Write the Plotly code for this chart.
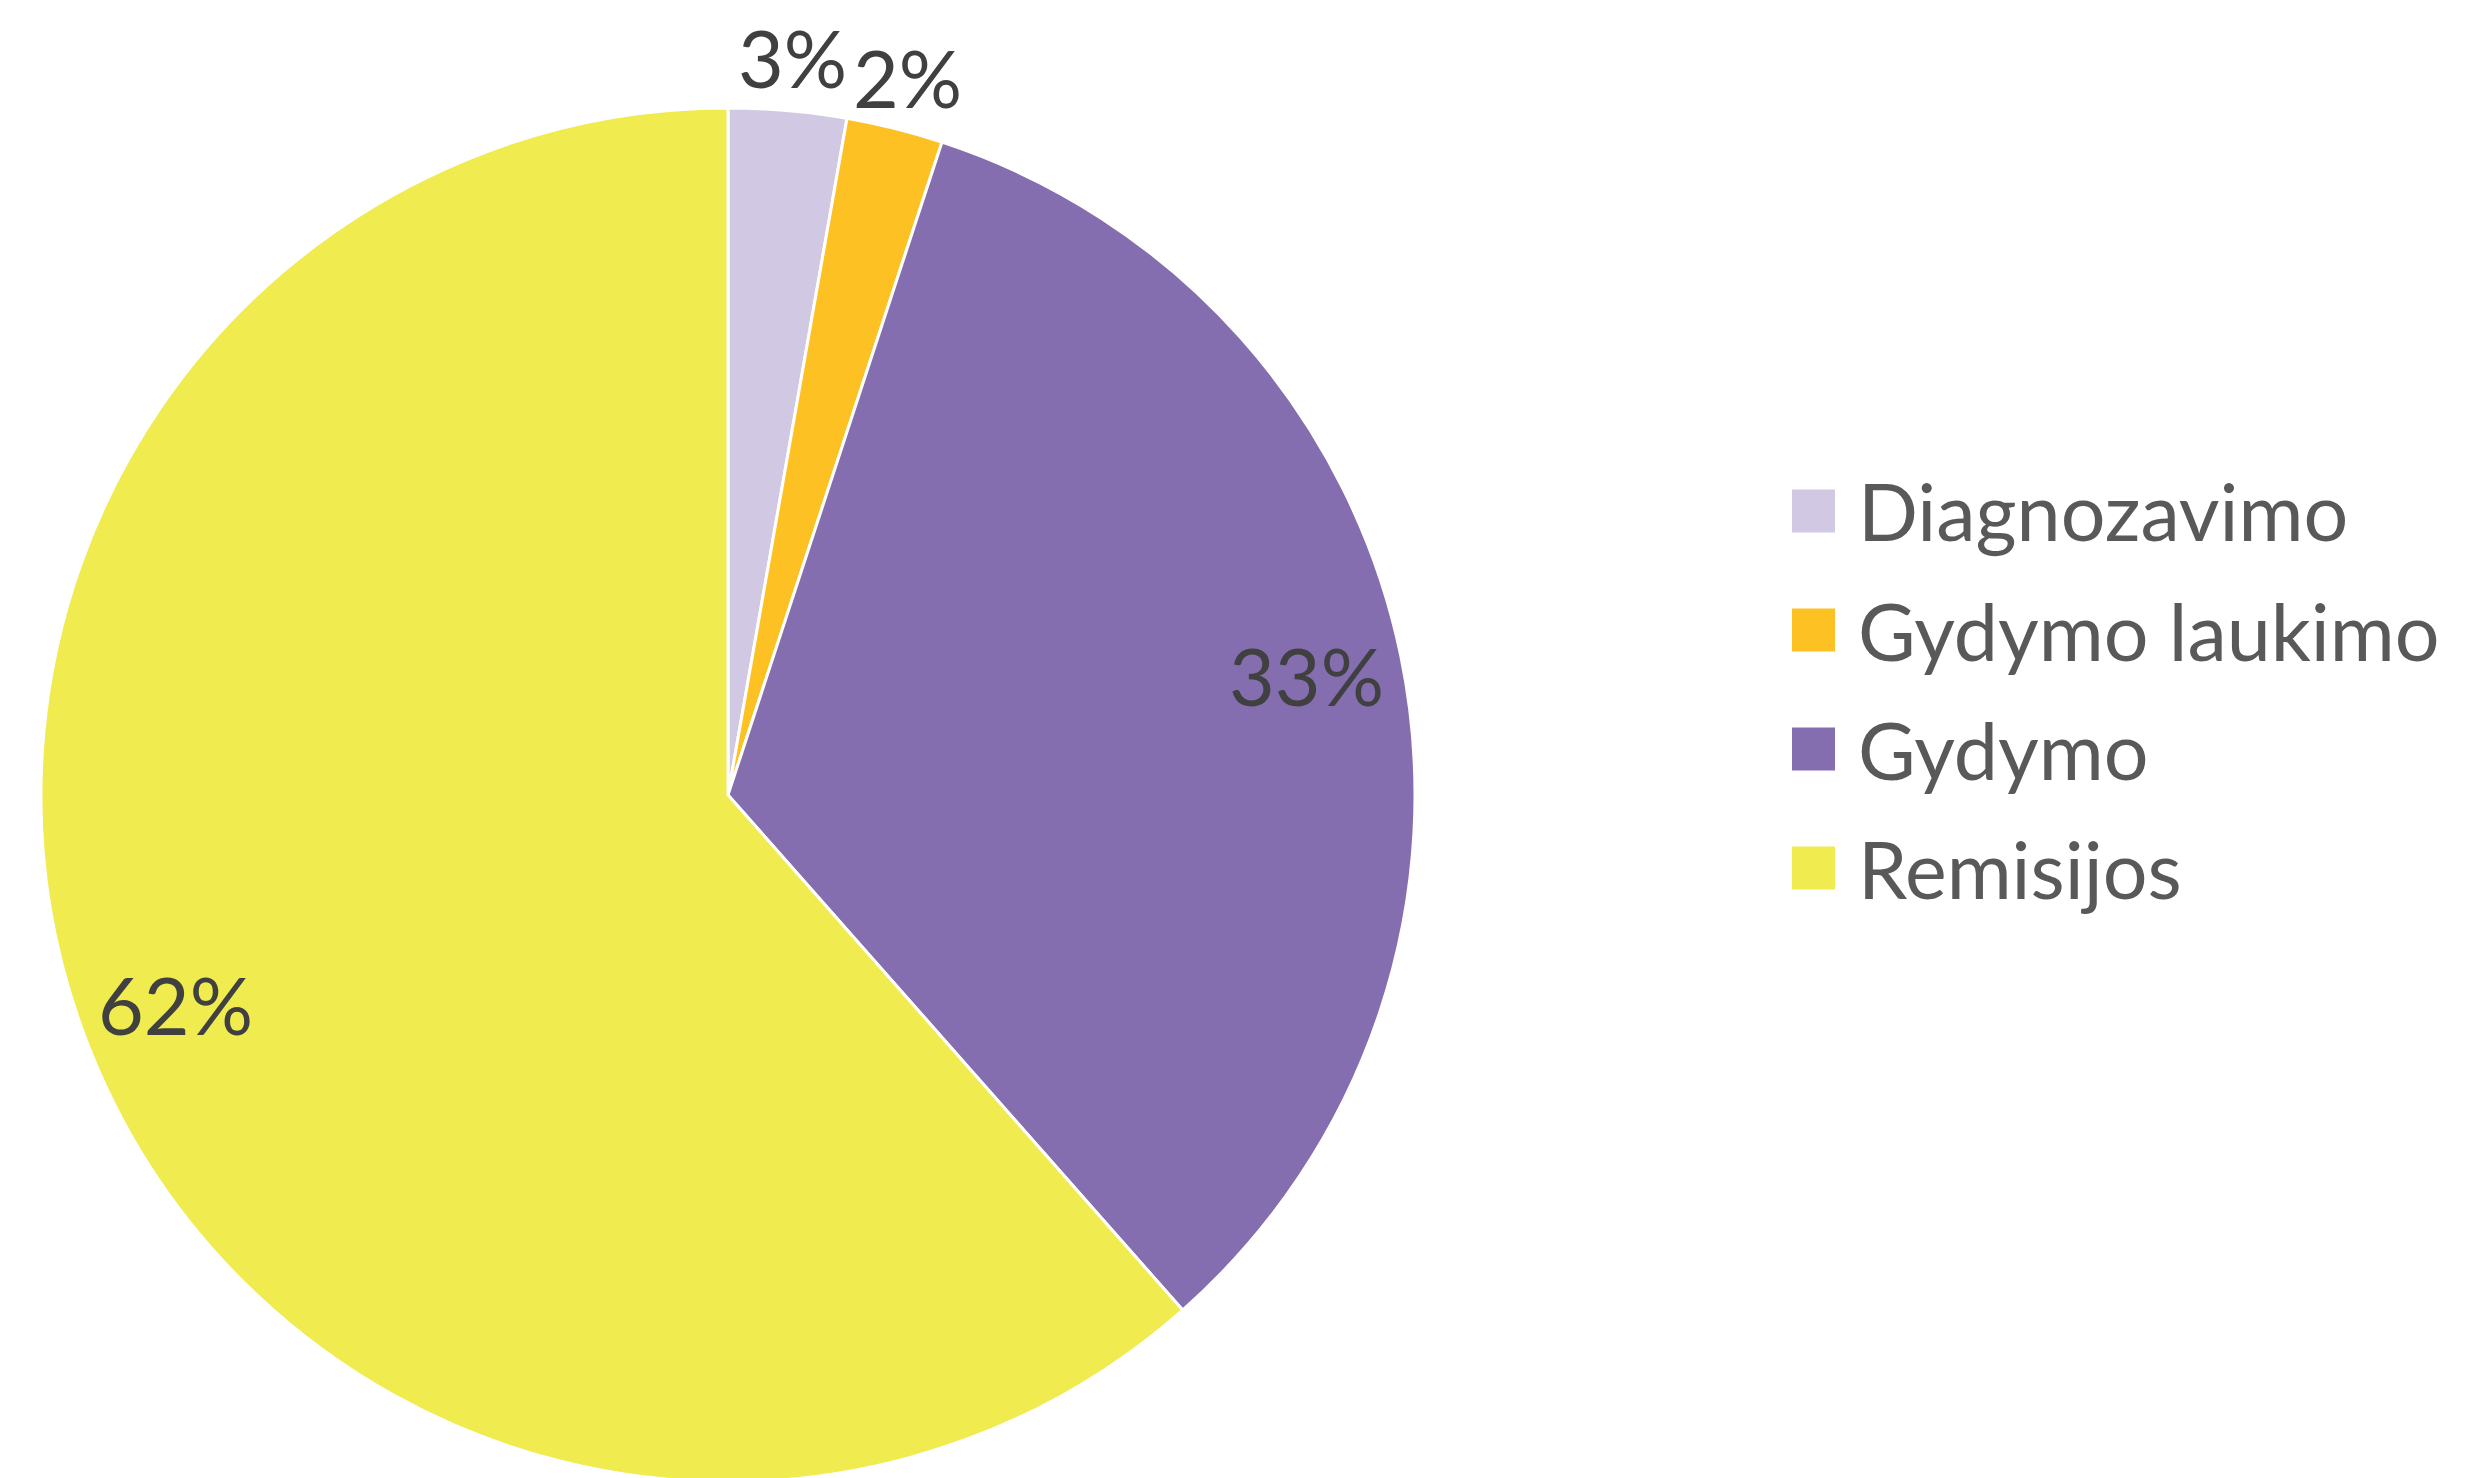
import math
import plotly.graph_objects as go

labels = ["Diagnozavimo", "Gydymo laukimo", "Gydymo", "Remisijos"]
values = [2.77, 2.27, 33.45, 61.51]
colors = ["#D1C9E3", "#FDC124", "#846EB0", "#F0EB4E"]
label_outside = [True, True, False, False]

W, H = 2475, 1478
OFF = 8  # default page (body) margin of the written html page
FONT = "Lato, 'Open Sans', sans-serif"
FS = 79

# pie geometry (paper domain), in figure pixels
PCX, PCY, PR = 728 - OFF, 795 - OFF, 687
dom_x = [(PCX - PR) / W, (PCX + PR) / W]
dom_y = [(H - (PCY + PR)) / H, 1 - (PCY - PR) / H]

fig = go.Figure()
fig.add_trace(go.Pie(
    labels=labels,
    values=values,
    sort=False,
    direction="clockwise",
    rotation=0,
    marker=dict(colors=colors, line=dict(color="white", width=3)),
    textinfo="none",
    showlegend=False,
    hoverinfo="label+percent",
    domain=dict(x=dom_x, y=dom_y),
))

# data labels placed along each slice bisector (Excel "best fit" style)
box_w = (dom_x[1] - dom_x[0]) * W
box_h = (dom_y[1] - dom_y[0]) * H
R = min(box_w, box_h) / 2
cx = (dom_x[0] + dom_x[1]) / 2 * W
cy = H * (1 - dom_y[0]) - box_h / 2
total = sum(values)
cum = 0.0
for v, out in zip(values, label_outside):
    mid = (cum + v / 2) / total * 2 * math.pi
    cum += v
    r = R + 53 if out else 0.86 * R
    px = cx + r * math.sin(mid)
    py = cy - r * math.cos(mid)
    fig.add_annotation(xref="paper", yref="paper", x=px / W, y=1 - py / H,
                       xanchor="center", yanchor="middle", showarrow=False,
                       text=f"{round(v / total * 100)}%",
                       font=dict(family=FONT, size=FS, color="#404040"))

# Legend (large square swatches), built from labels/colors
leg_x0, leg_sw = 1792 - OFF, 43
leg_y0, leg_dy = 511 - OFF, 119
for i, (lab, col) in enumerate(zip(labels, colors)):
    yc = leg_y0 + i * leg_dy
    fig.add_shape(type="rect", xref="paper", yref="paper",
                  x0=leg_x0 / W, x1=(leg_x0 + leg_sw) / W,
                  y0=1 - (yc - leg_sw / 2) / H, y1=1 - (yc + leg_sw / 2) / H,
                  fillcolor=col, line=dict(width=0))
    fig.add_annotation(xref="paper", yref="paper", x=(1856 - OFF) / W, y=1 - yc / H,
                       xanchor="left", yanchor="middle", showarrow=False,
                       text=lab, font=dict(family=FONT, size=FS, color="#595959"))

fig.update_layout(
    width=W, height=H,
    margin=dict(l=0, r=0, t=0, b=0, autoexpand=False),
    paper_bgcolor="white", plot_bgcolor="white",
)
fig.write_html("out.html")
